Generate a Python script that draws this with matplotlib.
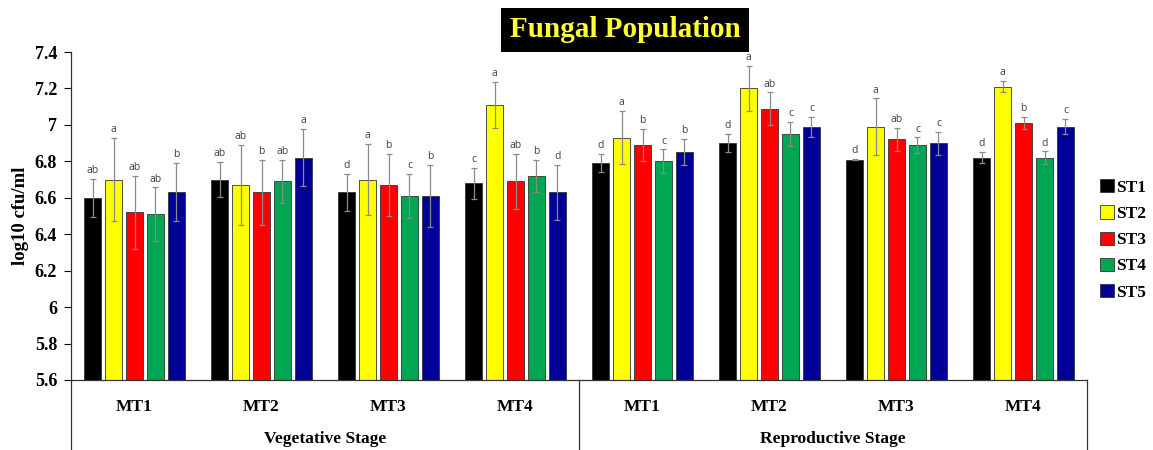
import numpy as np
import matplotlib
matplotlib.use("Agg")
import matplotlib.pyplot as plt
from matplotlib.patches import Patch

# groups along the x axis
groups = ["MT1", "MT2", "MT3", "MT4", "MT1", "MT2", "MT3", "MT4"]
stages = ["Vegetative Stage", "Reproductive Stage"]
series = ["ST1", "ST2", "ST3", "ST4", "ST5"]
colors = ["#000000", "#FFFF00", "#FF0000", "#00A651", "#000096"]

# mean log10 cfu/ml, one list per series (8 groups each)
st1 = [6.60, 6.70, 6.63, 6.68, 6.79, 6.90, 6.81, 6.82]
st2 = [6.70, 6.67, 6.70, 7.11, 6.93, 7.20, 6.99, 7.21]
st3 = [6.52, 6.63, 6.67, 6.69, 6.89, 7.09, 6.92, 7.01]
st4 = [6.51, 6.69, 6.61, 6.72, 6.80, 6.95, 6.89, 6.82]
st5 = [6.63, 6.82, 6.61, 6.63, 6.85, 6.99, 6.90, 6.99]

# error bar half-lengths
err1 = [0.105, 0.095, 0.10, 0.085, 0.05, 0.05, 0.005, 0.03]
err2 = [0.23, 0.22, 0.195, 0.125, 0.146, 0.125, 0.155, 0.032]
err3 = [0.20, 0.18, 0.17, 0.153, 0.09, 0.088, 0.065, 0.035]
err4 = [0.147, 0.118, 0.12, 0.09, 0.066, 0.066, 0.042, 0.035]
err5 = [0.16, 0.157, 0.17, 0.15, 0.072, 0.054, 0.063, 0.041]

# significance letters
let1 = ["ab", "ab", "d", "c", "d", "d", "d", "d"]
let2 = ["a", "ab", "a", "a", "a", "a", "a", "a"]
let3 = ["ab", "b", "b", "ab", "b", "ab", "ab", "b"]
let4 = ["ab", "ab", "c", "b", "c", "c", "c", "d"]
let5 = ["b", "a", "b", "d", "b", "c", "c", "c"]

values = [st1, st2, st3, st4, st5]
errors = [err1, err2, err3, err4, err5]
letters = [let1, let2, let3, let4, let5]

serif = "Liberation Serif"

fig = plt.figure(figsize=(11.53, 4.5), dpi=100)
ax = fig.add_axes([0.0616, 0.1556, 0.8812, 0.7288])

x = np.arange(len(groups))
step = 0.165
width = 0.134
base = 5.6

for i in range(5):
    pos = x + (i - 2) * step
    vals = np.array(values[i])
    ax.bar(pos, vals - base, width, bottom=base, color=colors[i],
           edgecolor="#333333", linewidth=0.6, zorder=2)
    ax.errorbar(pos, vals, yerr=errors[i], fmt="none", ecolor="#8a8a8a",
                elinewidth=0.9, capsize=2.5, capthick=0.9, zorder=3)
    for j in range(len(groups)):
        ax.annotate(letters[i][j], (pos[j], vals[j] + errors[i][j]),
                    xytext=(0, 2), textcoords="offset points",
                    ha="center", va="bottom", fontsize=7.5,
                    color="#404040", family="Open Sans", clip_on=False)

ax.set_xlim(-0.5, 7.5)
ax.set_ylim(5.6, 7.4)
yt = [5.6, 5.8, 6.0, 6.2, 6.4, 6.6, 6.8, 7.0, 7.2, 7.4]
ax.set_yticks(yt)
ax.set_yticklabels(["5.6", "5.8", "6", "6.2", "6.4", "6.6", "6.8", "7", "7.2", "7.4"],
                   family=serif, fontweight="bold", fontsize=13)
ax.tick_params(axis="y", direction="out", length=5, width=0.8, pad=5)
ax.set_xticks(x)
ax.set_xticklabels(groups, family=serif, fontweight="bold", fontsize=12.5)
ax.tick_params(axis="x", length=0, pad=14)

ax.spines["top"].set_visible(False)
ax.spines["right"].set_visible(False)
for s in ["left", "bottom"]:
    ax.spines[s].set_color("#333333")
    ax.spines[s].set_linewidth(0.9)

ax.set_ylabel("log10 cfu/ml", family=serif, fontweight="bold", fontsize=13.5,
              labelpad=4)

# lines below the axis that split the stages
low = -0.215
for xv in [-0.5, 3.5, 7.5]:
    ax.plot([xv, xv], [0, low], color="#333333", linewidth=0.9,
            transform=ax.get_xaxis_transform(), clip_on=False)

ax.text(1.5, -0.18, stages[0], transform=ax.get_xaxis_transform(),
        ha="center", va="center", family=serif, fontweight="bold", fontsize=12.5)
ax.text(5.5, -0.18, stages[1], transform=ax.get_xaxis_transform(),
        ha="center", va="center", family=serif, fontweight="bold", fontsize=12.5)

# title box
fig.text(0.542, 0.934, "Fungal Population", ha="center", va="center",
         family=serif, fontweight="bold", fontsize=21, color="#FFFF33",
         bbox=dict(facecolor="black", edgecolor="none", pad=6))

handles = [Patch(facecolor=c, edgecolor="#333333", linewidth=0.6) for c in colors]
fig.legend(handles, series, loc="center left", bbox_to_anchor=(0.954, 0.467),
           frameon=False, borderpad=0, borderaxespad=0,
           handlelength=0.8, handleheight=0.8,
           handletextpad=0.15, labelspacing=0.55,
           prop=dict(family=serif, weight="bold", size=12.5))

fig.savefig("out.png", dpi=100)
